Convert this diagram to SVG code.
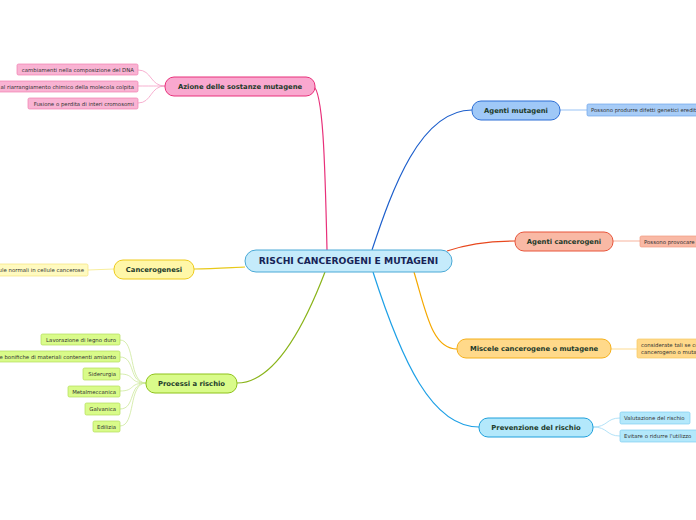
<svg xmlns="http://www.w3.org/2000/svg" width="696" height="520" viewBox="0 0 696 520">
<style>
.t{font-family:"DejaVu Sans",Verdana,sans-serif;font-weight:bold;font-size:6.8px;fill:#1d3b2a;text-anchor:middle}
.c{font-family:"DejaVu Sans",Verdana,sans-serif;font-weight:bold;font-size:9.2px;fill:#172457;text-anchor:middle}
.l{font-family:"DejaVu Sans",Verdana,sans-serif;font-size:5.4px;fill:#333}
.e{text-anchor:end}
.conn path{fill:none}
</style>
<rect width="696" height="520" fill="#fff"/>
<g class="conn">
<path d="M327,250 C325,160 323,90 313,86" stroke="#e8307a" stroke-width="1.2"/>
<path d="M372,250 C392,190 420,110 472,110" stroke="#1d5fcc" stroke-width="1.2"/>
<path d="M447,251 C470,243 492,241 515,241" stroke="#e8481e" stroke-width="1.2"/>
<path d="M245,267 C225,268 212,269 194,269" stroke="#e8c91a" stroke-width="1.2"/>
<path d="M414,272 C426,312 432,349 457,349" stroke="#f5a800" stroke-width="1.2"/>
<path d="M325,272 C302,332 272,383 237,383" stroke="#8ab41a" stroke-width="1.2"/>
<path d="M373,272 C402,362 432,427 479,427" stroke="#1ea0e6" stroke-width="1.2"/>
<g stroke="#f59cc4" stroke-width="0.8">
<path d="M165,86 C150,86 152,70 138,70"/>
<path d="M165,86 C150,86 152,86 138,86"/>
<path d="M165,86 C150,86 152,103 138,103"/>
</g>
<path d="M560,110 L587,110" stroke="#a9cdf6" stroke-width="1.2"/>
<path d="M613,241 L640,241" stroke="#f8c0ae" stroke-width="1.2"/>
<path d="M114,269 L88,270" stroke="#f8ee9c" stroke-width="1.2"/>
<path d="M611,349 L637,349" stroke="#fde2a4" stroke-width="1.2"/>
<g stroke="#cde89c" stroke-width="0.8">
<path d="M146,383 C128,383 136,340 120,340"/>
<path d="M146,383 C128,383 136,357 120,357"/>
<path d="M146,383 C128,383 136,374 120,374"/>
<path d="M146,383 C128,383 136,391 120,391"/>
<path d="M146,383 C128,383 136,409 120,409"/>
<path d="M146,383 C128,383 136,426 120,426"/>
</g>
<g stroke="#9fdbf5" stroke-width="0.8">
<path d="M593,427 C608,427 606,418 620,418"/>
<path d="M593,427 C608,427 606,436 620,436"/>
</g>
</g>
<g id="center">
<rect x="245" y="250" width="207" height="22" rx="11" fill="#c5ebfb" stroke="#4aa9d6" stroke-width="1"/>
<text class="c" x="348.5" y="264.4">RISCHI CANCEROGENI E MUTAGENI</text>
</g>
<g id="azione">
<rect x="165" y="77" width="150" height="19" rx="9" fill="#f9a8cf" stroke="#e8307a" stroke-width="1"/>
<text class="t" x="240" y="89">Azione delle sostanze mutagene</text>
</g>
<g id="azione-1">
<rect x="17" y="64" width="121" height="11" rx="1.5" fill="#f9b3d3" stroke="#f07fb0" stroke-width="0.7"/>
<text class="l e" x="134" y="71.7">cambiamenti nella composizione del DNA</text>
</g>
<g id="azione-2">
<rect x="-30" y="81" width="168" height="11" rx="1.5" fill="#f9b3d3" stroke="#f07fb0" stroke-width="0.7"/>
<text class="l e" x="134" y="88.7">al riarrangiamento chimico della molecola colpita</text>
</g>
<g id="azione-3">
<rect x="28" y="98" width="110" height="11" rx="1.5" fill="#f9b3d3" stroke="#f07fb0" stroke-width="0.7"/>
<text class="l e" x="134" y="105.7">Fusione o perdita di interi cromosomi</text>
</g>
<g id="mutageni">
<rect x="472" y="101" width="88" height="19" rx="9" fill="#9fc8f7" stroke="#2d6fd6" stroke-width="1"/>
<text class="t" x="516" y="113">Agenti mutageni</text>
</g>
<g id="mutageni-1">
<rect x="587" y="104" width="140" height="12" rx="1.5" fill="#a7ccf7" stroke="#6fa4ea" stroke-width="0.7"/>
<text class="l" x="591" y="112">Possono produrre difetti genetici ereditari</text>
</g>
<g id="cancerogeni">
<rect x="515" y="232" width="98" height="19" rx="9" fill="#f9b9a5" stroke="#e8543a" stroke-width="1"/>
<text class="t" x="564" y="244">Agenti cancerogeni</text>
</g>
<g id="cancerogeni-1">
<rect x="640" y="236" width="100" height="11" rx="1.5" fill="#f9b9a5" stroke="#f09b82" stroke-width="0.7"/>
<text class="l" x="644" y="243.7">Possono provocare il cancro</text>
</g>
<g id="cancerogenesi">
<rect x="114" y="260" width="80" height="19" rx="9" fill="#fff7a8" stroke="#eecb1c" stroke-width="1"/>
<text class="t" x="154" y="272">Cancerogenesi</text>
</g>
<g id="cancerogenesi-1">
<rect x="-60" y="264" width="148" height="12" rx="1.5" fill="#fffac0" stroke="#f5e27a" stroke-width="0.7"/>
<text class="l e" x="84" y="272">cellule normali in cellule cancerose</text>
</g>
<g id="miscele">
<rect x="457" y="339" width="154" height="19" rx="9" fill="#ffd98a" stroke="#f5b01a" stroke-width="1"/>
<text class="t" x="534" y="351">Miscele cancerogene o mutagene</text>
</g>
<g id="miscele-1">
<rect x="637" y="339" width="140" height="19" rx="1.5" fill="#ffd98a" stroke="#f7c860" stroke-width="0.7"/>
<text class="l" x="641" y="347">considerate tali se contengono almeno un</text>
<text class="l" x="641" y="354">cancerogeno o mutageno</text>
</g>
<g id="processi">
<rect x="146" y="374" width="91" height="19" rx="9" fill="#d9fb8a" stroke="#8ec21a" stroke-width="1"/>
<text class="t" x="191.5" y="386">Processi a rischio</text>
</g>
<g id="processi-1">
<rect x="41" y="334" width="79" height="11" rx="1.5" fill="#d9fb8a" stroke="#b3dd5a" stroke-width="0.7"/>
<text class="l e" x="116" y="341.7">Lavorazione di legno duro</text>
</g>
<g id="processi-2">
<rect x="-20" y="351" width="140" height="11" rx="1.5" fill="#d9fb8a" stroke="#b3dd5a" stroke-width="0.7"/>
<text class="l e" x="116" y="358.7">e bonifiche di materiali contenenti amianto</text>
</g>
<g id="processi-3">
<rect x="83" y="368" width="37" height="12" rx="1.5" fill="#d9fb8a" stroke="#b3dd5a" stroke-width="0.7"/>
<text class="l e" x="116" y="376">Siderurgia</text>
</g>
<g id="processi-4">
<rect x="68" y="386" width="52" height="11" rx="1.5" fill="#d9fb8a" stroke="#b3dd5a" stroke-width="0.7"/>
<text class="l e" x="116" y="393.7">Metalmeccanica</text>
</g>
<g id="processi-5">
<rect x="85" y="403" width="35" height="12" rx="1.5" fill="#d9fb8a" stroke="#b3dd5a" stroke-width="0.7"/>
<text class="l e" x="116" y="411">Galvanica</text>
</g>
<g id="processi-6">
<rect x="93" y="421" width="27" height="11" rx="1.5" fill="#d9fb8a" stroke="#b3dd5a" stroke-width="0.7"/>
<text class="l e" x="116" y="428.7">Edilizia</text>
</g>
<g id="prevenzione">
<rect x="479" y="418" width="114" height="19" rx="9" fill="#b3e8fb" stroke="#1ea0dc" stroke-width="1"/>
<text class="t" x="536" y="430">Prevenzione del rischio</text>
</g>
<g id="prevenzione-1">
<rect x="620" y="412" width="70" height="12" rx="1.5" fill="#b3e8fb" stroke="#7fcdf0" stroke-width="0.7"/>
<text class="l" x="624" y="420">Valutazione del rischio</text>
</g>
<g id="prevenzione-2">
<rect x="620" y="430" width="110" height="12" rx="1.5" fill="#b3e8fb" stroke="#7fcdf0" stroke-width="0.7"/>
<text class="l" x="624" y="438">Evitare o ridurre l'utilizzo</text>
</g>
</svg>
